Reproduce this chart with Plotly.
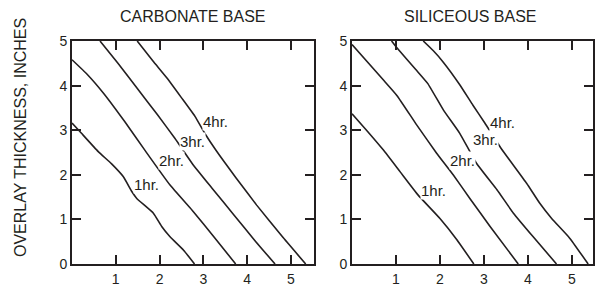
import plotly.graph_objects as go
from plotly.subplots import make_subplots

# ---- data ----
panel_titles = ["CARBONATE BASE", "SILICEOUS BASE"]
y_title = "OVERLAY THICKNESS, INCHES"
x_ticks = [1, 2, 3, 4, 5]
y_ticks = [0, 1, 2, 3, 4, 5]
series_names = ["1hr.", "2hr.", "3hr.", "4hr."]

carb_1hr_x = [0, 0.18, 0.60, 0.90, 1.17, 1.37, 1.48, 1.86, 2.05, 2.24, 2.55, 2.80]
carb_1hr_y = [3.16, 2.97, 2.52, 2.25, 1.96, 1.62, 1.47, 1.14, 0.84, 0.61, 0.31, 0]
carb_2hr_x = [0, 0.35, 0.72, 1.20, 1.68, 2.24, 2.75, 3.25, 3.74]
carb_2hr_y = [4.58, 4.25, 3.83, 3.20, 2.53, 1.77, 1.20, 0.60, 0]
carb_3hr_x = [0.64, 1.05, 1.48, 1.95, 2.35, 2.75, 3.20, 3.70, 4.20, 4.64]
carb_3hr_y = [5, 4.50, 3.95, 3.35, 2.82, 2.25, 1.70, 1.10, 0.50, 0]
carb_4hr_x = [1.49, 1.85, 2.17, 2.50, 2.81, 3.04, 3.29, 3.75, 4.22, 4.80, 5.34]
carb_4hr_y = [5, 4.55, 4.17, 3.73, 3.31, 2.92, 2.55, 1.93, 1.32, 0.62, 0]

sil_1hr_x = [0, 0.33, 0.71, 1.10, 1.50, 2.00, 2.38, 2.77]
sil_1hr_y = [3.37, 3.00, 2.56, 2.06, 1.55, 1.02, 0.55, 0]
sil_2hr_x = [0, 0.71, 1.02, 1.47, 1.92, 2.30, 2.68, 3.14, 3.78]
sil_2hr_y = [4.92, 4.13, 3.78, 3.12, 2.49, 2.00, 1.47, 0.84, 0]
sil_3hr_x = [0.90, 1.02, 1.45, 1.72, 2.08, 2.45, 2.83, 3.30, 3.67, 4.12, 4.65]
sil_3hr_y = [5, 4.85, 4.36, 4.05, 3.45, 2.93, 2.26, 1.66, 1.14, 0.61, 0]
sil_4hr_x = [1.62, 1.85, 2.08, 2.45, 2.75, 3.02, 3.40, 3.97, 4.27, 4.54, 4.95, 5.37]
sil_4hr_y = [5, 4.78, 4.52, 4.02, 3.56, 3.16, 2.58, 1.81, 1.36, 1.02, 0.58, 0]

carb_label_x = [1.71, 2.28, 2.75, 3.27]
carb_label_y = [1.79, 2.31, 2.75, 3.20]
sil_label_x = [1.85, 2.51, 3.03, 3.42]
sil_label_y = [1.64, 2.31, 2.80, 3.18]

# ---- figure ----
INK = "#231f20"
FONT = "Liberation Sans, Arial, Helvetica, sans-serif"
OFF = 8  # page body margin of the html page

fig = make_subplots(rows=1, cols=2, horizontal_spacing=0.0)

panels = [
    ([(carb_1hr_x, carb_1hr_y), (carb_2hr_x, carb_2hr_y),
      (carb_3hr_x, carb_3hr_y), (carb_4hr_x, carb_4hr_y)],
     carb_label_x, carb_label_y),
    ([(sil_1hr_x, sil_1hr_y), (sil_2hr_x, sil_2hr_y),
      (sil_3hr_x, sil_3hr_y), (sil_4hr_x, sil_4hr_y)],
     sil_label_x, sil_label_y),
]

for col, (curves, lx, ly) in enumerate(panels, start=1):
    for name, (xs, ys) in zip(series_names, curves):
        fig.add_trace(go.Scatter(x=xs, y=ys, mode="lines", name=name,
                                 line=dict(color=INK, width=1.6,
                                           shape="spline", smoothing=0.4),
                                 showlegend=False, hoverinfo="skip"),
                      row=1, col=col)
    xref = "x" if col == 1 else "x2"
    yref = "y" if col == 1 else "y2"
    for name, ax, ay in zip(series_names, lx, ly):
        fig.add_annotation(x=ax, y=ay, xref=xref, yref=yref, text=name,
                           showarrow=False, bgcolor="white", borderpad=0,
                           font=dict(size=15, color=INK, family=FONT))

axis_common = dict(showline=True, linecolor=INK, linewidth=2, mirror="ticks",
                   ticks="inside", ticklen=9, tickwidth=2, tickcolor=INK,
                   showgrid=False, zeroline=False,
                   tickfont=dict(size=14, color=INK, family=FONT))

fig.update_xaxes(tickvals=x_ticks, ticklabelstandoff=1, **axis_common)
fig.update_yaxes(range=[0, 5], tickvals=y_ticks, **axis_common)

W, H = 606 - OFF, 285 - OFF
ml, mr, mt, mb = 72 - OFF, 13, 41 - OFF, 21
pw = W - ml - mr
ph = H - mt - mb


def px_x(page_x):
    return (page_x - OFF - ml) / pw


def px_y(page_y):
    return (H - mb - (page_y - OFF)) / ph


fig.update_layout(
    width=W, height=H,
    margin=dict(l=ml, r=mr, t=mt, b=mb, autoexpand=False),
    plot_bgcolor="white", paper_bgcolor="white",
    xaxis=dict(domain=[0, px_x(314)], range=[0, 5.53]),
    xaxis2=dict(domain=[px_x(352), 1], range=[0, 5.48]),
    font=dict(family=FONT, color=INK),
)

# panel titles
fig.add_annotation(x=px_x(193), y=px_y(17), xref="paper", yref="paper",
                   text=panel_titles[0], showarrow=False,
                   xanchor="center", yanchor="middle",
                   font=dict(size=16, color=INK, family=FONT))
fig.add_annotation(x=px_x(470), y=px_y(17), xref="paper", yref="paper",
                   text=panel_titles[1], showarrow=False,
                   xanchor="center", yanchor="middle",
                   font=dict(size=16, color=INK, family=FONT))
# y-axis title
fig.add_annotation(x=px_x(20), y=px_y(138), xref="paper", yref="paper",
                   text=y_title, textangle=-90, showarrow=False,
                   xanchor="center", yanchor="middle",
                   font=dict(size=16, color=INK, family=FONT))

fig.write_html("out.html")
